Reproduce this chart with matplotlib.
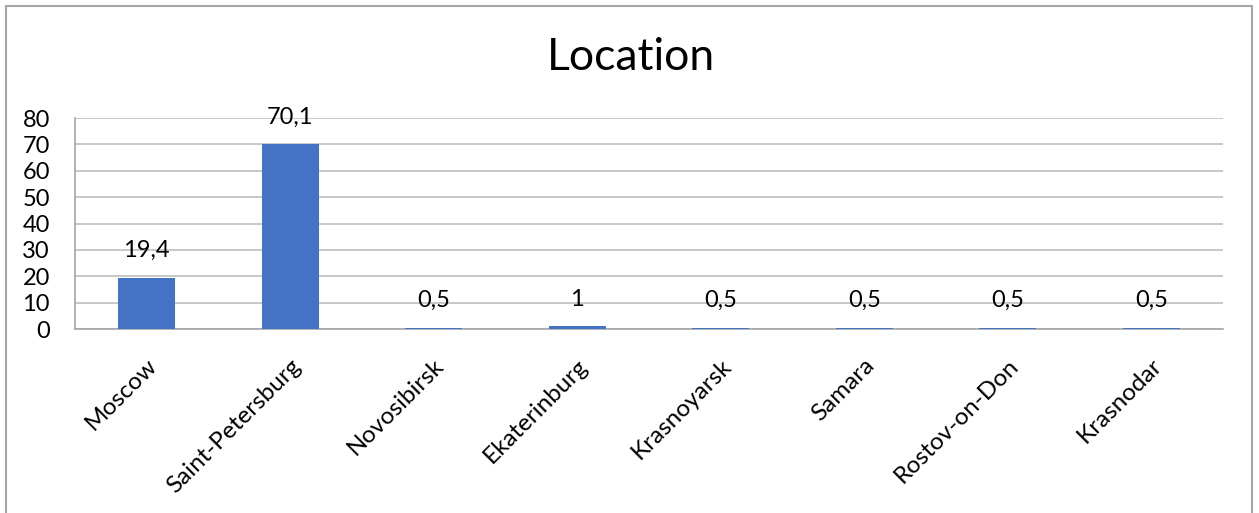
import matplotlib
matplotlib.use("Agg")
import matplotlib.pyplot as plt
from matplotlib.patches import Rectangle
from matplotlib.transforms import ScaledTranslation

cities = ["Moscow", "Saint-Petersburg", "Novosibirsk", "Ekaterinburg",
          "Krasnoyarsk", "Samara", "Rostov-on-Don", "Krasnodar"]
shares = [19.4, 70.1, 0.5, 1, 0.5, 0.5, 0.5, 0.5]
y_ticks = [0, 10, 20, 30, 40, 50, 60, 70, 80]
title = "Location"

plt.rcParams["font.family"] = ["Lato", "DejaVu Sans"]

W, H = 1259, 513
fig = plt.figure(figsize=(W / 100, H / 100), dpi=100)
ax = fig.add_axes([75 / W, 1 - 329 / H, (1223 - 75) / W, (329 - 118) / H])

x = range(len(cities))
ax.bar(x, shares, width=0.4, color="#4472C4", zorder=3)

fs = 17
ax.set_xlim(-0.5, len(cities) - 0.5)
ax.set_ylim(0, 80)
ax.set_yticks(y_ticks)
ax.set_yticklabels([str(v) for v in y_ticks], fontsize=fs)
ax.set_xticks(list(x))
ax.set_xticklabels(cities, rotation=45, ha="right", va="center",
                   rotation_mode="anchor", fontsize=17.5)
ax.tick_params(axis="both", length=0)
ax.tick_params(axis="x", pad=24)
ax.tick_params(axis="y", pad=18)
shift = ScaledTranslation(7 / 100, 0, fig.dpi_scale_trans)
for lbl in ax.get_xticklabels():
    lbl.set_transform(lbl.get_transform() + shift)

ax.grid(axis="y", color="#BFBFBF", linewidth=1.2, zorder=0)
for side in ("top", "right"):
    ax.spines[side].set_visible(False)
for side in ("left", "bottom"):
    ax.spines[side].set_color("#A6A6A6")
    ax.spines[side].set_linewidth(1.2)

for xi, v in zip(x, shares):
    label = f"{v:g}".replace(".", ",")
    ax.annotate(label, (xi, v), xytext=(0, 12), textcoords="offset points",
                ha="center", va="bottom", fontsize=fs)

fig.text(631 / W, 1 - 58 / H, title, ha="center", va="center", fontsize=32)

# outer chart frame
fig.patches.append(Rectangle((6 / W, -0.05), (1252 - 6) / W, 1.05 - 6 / H,
                             transform=fig.transFigure, fill=False,
                             edgecolor="#A6A6A6", linewidth=1.5))

fig.savefig("out.png", dpi=100)
